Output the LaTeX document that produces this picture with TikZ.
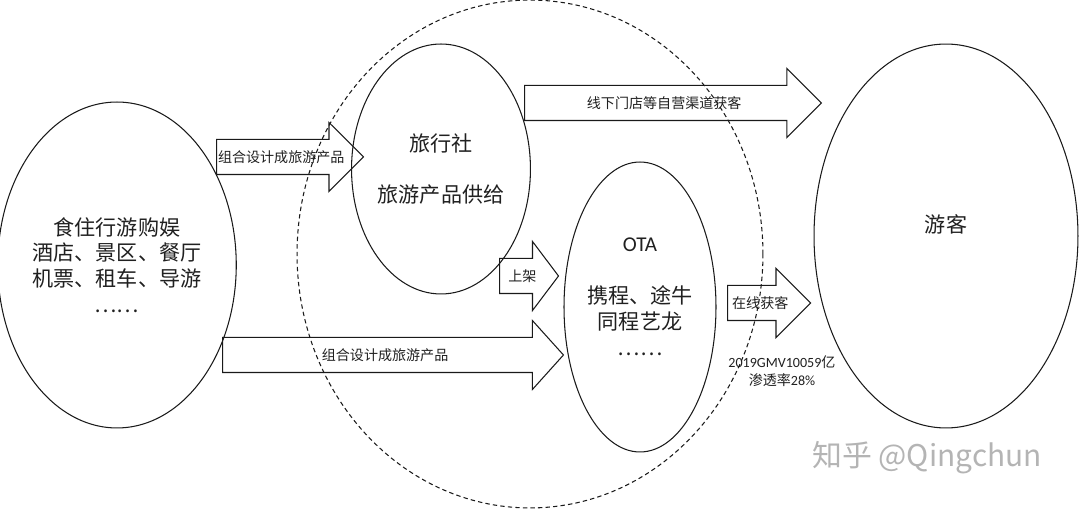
\documentclass[tikz,border=0pt]{standalone}
\usepackage{fontspec}
\setmainfont{Noto Sans CJK SC}
\newfontfamily\latin{Carlito}
\usepackage{xcolor}
\usepackage{tikz}
\usetikzlibrary{shapes.geometric,shapes.arrows}
\definecolor{cLine}{HTML}{1A1A1A}
\definecolor{cInk}{HTML}{202020}
\definecolor{cMark}{HTML}{B4B4B4}

\begin{document}
\begin{tikzpicture}[x=0.02cm,y=-0.02cm,line width=0.6pt,
  bubble/.style={ellipse,draw=cLine,inner sep=0pt,align=center,text=cInk,font=\fontsize{12}{14.7}\selectfont},
  zone/.style={ellipse,draw=cLine,dash pattern=on 2.5pt off 1.8pt,inner sep=0pt},
  barrow/.style={single arrow,draw=cLine,inner xsep=0pt,inner ysep=0.34cm,
    single arrow head extend=0.34cm,single arrow tip angle=90,anchor=tail,
    label={[text=cInk,font=\fontsize{8}{10}\selectfont]center:#1}},
  note/.style={align=center,text=cInk,font=\fontsize{8}{10}\selectfont}]
  \useasboundingbox (0,0) rectangle (1080,509);
  % the circle round the channels
  \node[zone,minimum width=9.32cm,minimum height=10.16cm] (channel) at (530,254) {};
  % suppliers, channels, tourists
  \node[bubble,minimum width=4.64cm,minimum height=6.52cm] (supply) at (117,265)
    {食住行游购娱\\酒店、景区、餐厅\\机票、租车、导游\\……};
  \node[bubble,minimum width=3.12cm,minimum height=5cm] (agency) at (441,169)
    {旅行社\\[0.52cm]旅游产品供给};
  \node[bubble,minimum width=3.04cm,minimum height=5.8cm,text depth=0.42cm] (ota) at (640,307)
    {{\latin OTA}\\[0.52cm]携程、途牛\\同程艺龙\\……};
  \node[bubble,minimum width=5.28cm,minimum height=7.68cm,text depth=0.48cm] (tourist) at (946,236) {游客};
  % block arrows
  \node[barrow=组合设计成旅游产品,minimum height=2.94cm] (pack) at (216,157) {};
  \node[barrow=线下门店等自营渠道获客,minimum height=5.94cm] (offline) at (524,103) {};
  \node[barrow=上架,minimum height=1.18cm,single arrow tip angle=106] (list) at (499,276) {};
  \node[barrow=组合设计成旅游产品,minimum height=6.82cm,single arrow tip angle=96] (packota) at (222,355) {};
  \node[barrow=在线获客,minimum height=1.66cm] (online) at (727,303) {};
  \node[note] (gmv) at (782,371) {{\latin 2019GMV10059}亿\\渗透率{\latin 28\%}};
  % watermark
  \node[text=cMark,font=\fontsize{17}{20}\selectfont] (mark) at (927,458) {知乎 @Qingchun};
\end{tikzpicture}
\end{document}
